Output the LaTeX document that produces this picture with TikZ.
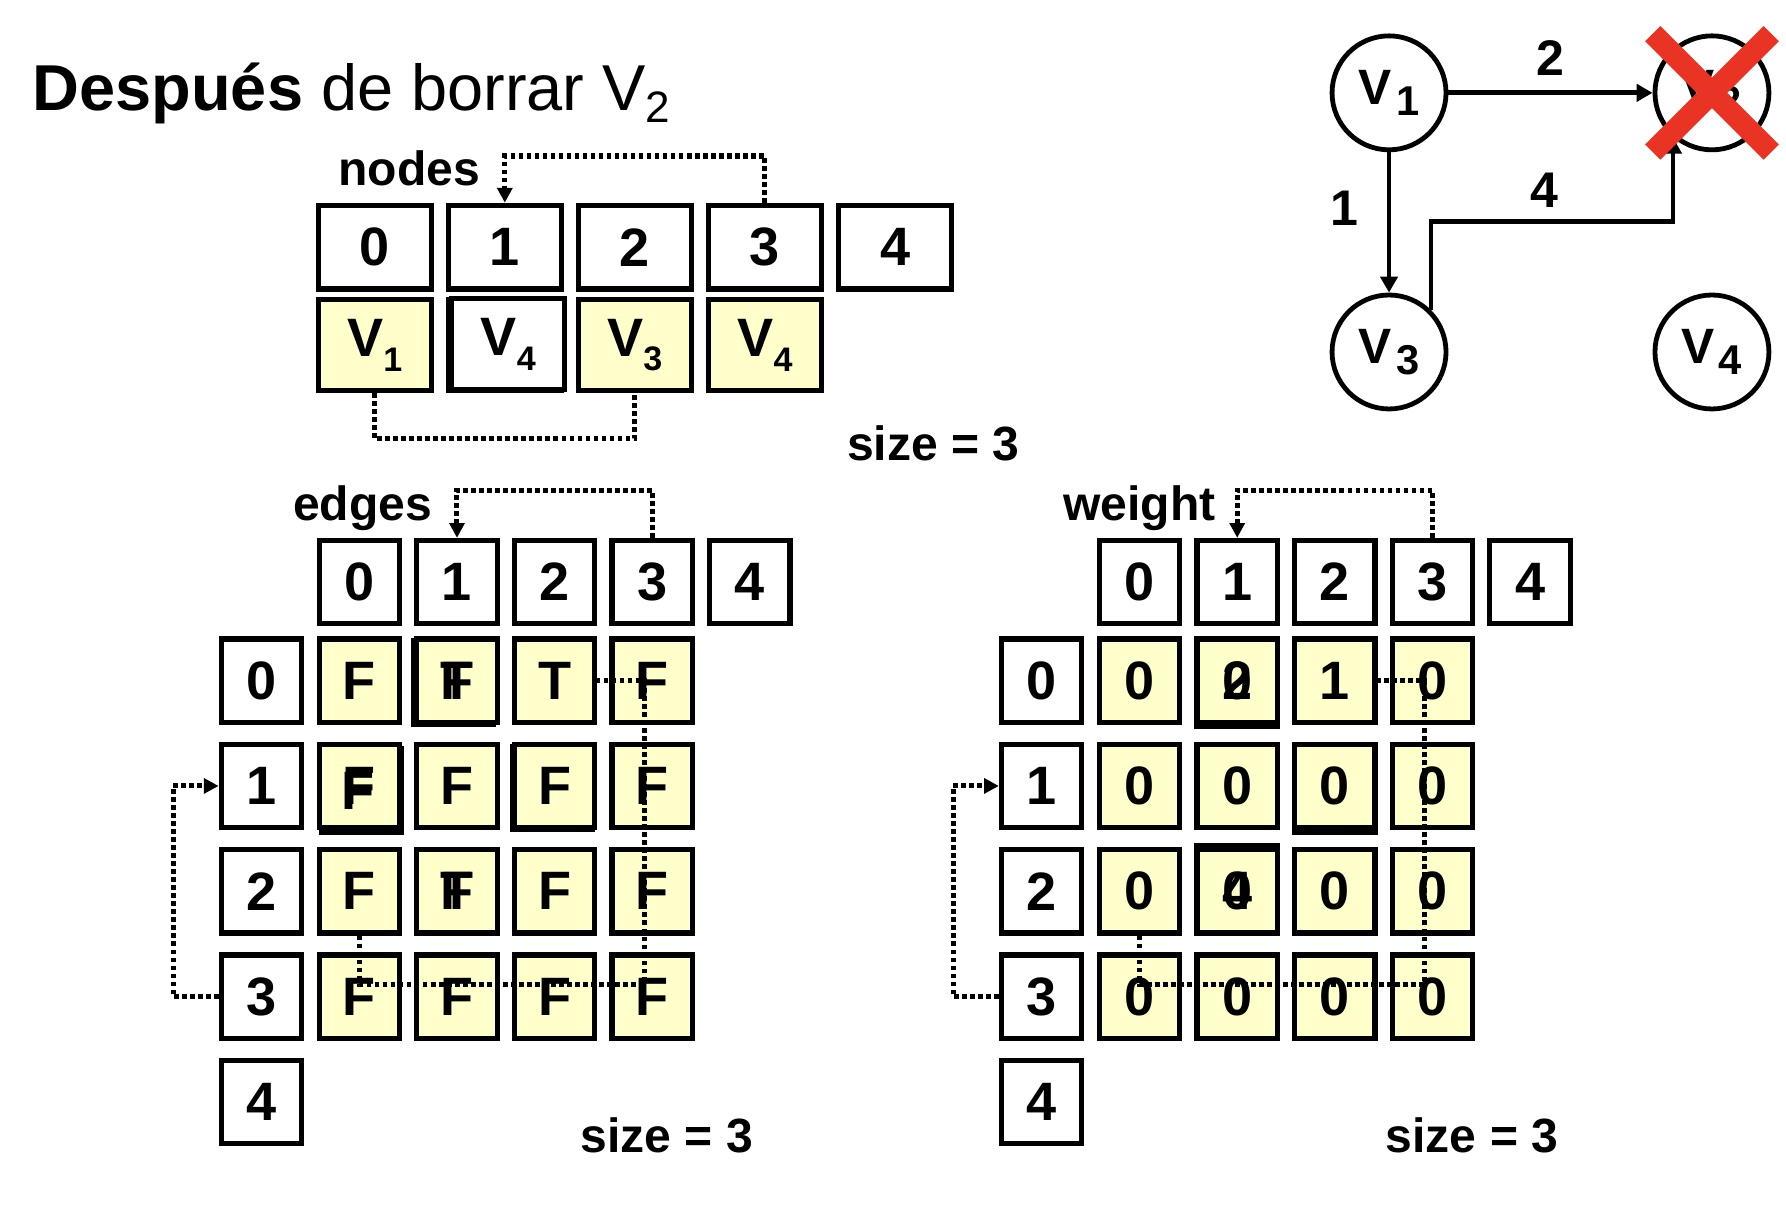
\documentclass[tikz,border=0pt]{standalone}
\usepackage{fontspec}
\setmainfont{Liberation Sans}
\usetikzlibrary{arrows.meta, positioning, calc}

\definecolor{cellyellow}{RGB}{255,255,204}
\definecolor{crossred}{RGB}{233,52,37}
\newcommand{\arrv}[1]{V\raisebox{-3.7pt}{\fontsize{8.5}{8.5}\selectfont #1}}
\newcommand{\grv}[1]{V\kern1pt\raisebox{-2.9pt}{\fontsize{10.4}{10.4}\selectfont #1}}

\begin{document}
\begin{tikzpicture}[
      x=0.01cm, y=-0.01cm,
      cellbox/.style={rectangle, draw, line width=1.3pt, inner sep=0pt, minimum width=0.705cm, minimum height=0.73cm, font=\bfseries\fontsize{13.5}{13.5}\selectfont},
      full/.style={cellbox, fill=cellyellow},
      slot/.style={cellbox, minimum width=0.99cm, minimum height=0.735cm},
      tall/.style={slot, minimum height=0.795cm},
      glyph/.style={inner sep=0pt, font=\bfseries\fontsize{13.5}{13.5}\selectfont},
      vert/.style={circle, draw, line width=1.2pt, minimum size=1cm, inner sep=0pt, font=\bfseries\fontsize{12.4}{12.4}\selectfont},
      lbl/.style={inner sep=0pt, font=\bfseries\fontsize{12}{12}\selectfont},
      conn/.style={-{Triangle[length=1.4mm, width=1.5mm]}, line width=1.2pt},
      trail/.style={line width=1.25pt, dash pattern=on 1.15pt off 0.85pt},
      trailarrow/.style={trail, -{Triangle[length=1.3mm, width=1.3mm]}}
    ]
    \useasboundingbox (0,0) rectangle (1568,1059);

    % title
    \node[anchor=base west, inner sep=0pt, font=\fontsize{16.2}{16.2}\selectfont] (title) at (28,97)
      {\textbf{Después} de borrar V\raisebox{-3.1pt}{\fontsize{11}{11}\selectfont 2}};

    % nodes array
    \node[lbl, anchor=base east] (nlabel) at (422,163) {nodes};
    \foreach \i in {0,...,4}
      \node[slot] (n\i) at (329+114.2*\i, 217) {\i};
    \node[tall] (g0) at (443.2,303) {};
    \node[tall, fill=cellyellow] (m0) at (329,303) {\arrv{1}};
    \node[tall, fill=white] (m1) at (446.2,302) {\arrv{4}};
    \node[tall, fill=cellyellow] (m2) at (557.4,303) {\arrv{3}};
    \node[tall, fill=cellyellow] (m3) at (671.6,303) {\arrv{4}};
    \draw[trailarrow] (n3.north) -- ++(0,-41) -| (n1.north);
    \draw[trail] (m0.south) -- ++(0,40) -| (m2.south);
    \node[lbl, anchor=base west] (nsize) at (743,404) {size = 3};

    % edges matrix
    \node[lbl, anchor=base east] (elabel) at (380,457) {edges};
    \foreach \c in {0,...,4}
      \node[cellbox] (eh\c) at (315.5+85.7*\c, 511) {\c};
    \foreach \r in {0,...,4}
      \node[cellbox] (er\r) at (229.5, 597.5+92.5*\r) {\r};
    \node[full] (eg1) at (398.2,599) {};
    \node[full] (eg2) at (317.5,694) {};
    \node[full] (eg3) at (484.9,692) {};
    \foreach \r/\row in {0/{F,F,T,F}, 1/{F,F,F,F}, 2/{F,F,F,F}, 3/{F,F,F,F}}
      \foreach \t [count=\c from 0] in \row
        \node[full] (e\r\c) at (315.5+85.7*\c, 597.5+92.5*\r) {\t};
    \node[glyph] (e01b) at (e01) {T};
    \node[glyph] (e21b) at (e21) {T};
    \node[glyph] (e10b) at ($(e10)+(-1.5,4)$) {F};
    \coordinate (eturn) at ($(e33)+(-7,-11)$);
    \draw[trail] (e20.south) |- (eturn) |- (e02.east);
    \draw[trailarrow] (eh3.north) -- ++(0,-42) -| (eh1.north);
    \draw[trailarrow] (er3.west) -- ++(-40,0) |- (er1.west);
    \node[lbl, anchor=base west] (esize) at (509,1012) {size = 3};

    % weight matrix
    \node[lbl, anchor=base east] (wlabel) at (1068,457) {weight};
    \foreach \c in {0,...,4}
      \node[cellbox] (wh\c) at (1000.5+85.7*\c, 511) {\c};
    \foreach \r in {0,...,4}
      \node[cellbox] (wr\r) at (914.5, 597.5+92.5*\r) {\r};
    \node[full] (wg1) at (1086.2,601.5) {};
    \node[full] (wg2) at (1171.9,694) {};
    \node[full] (wg3) at (1086.2,778.5) {};
    \foreach \r/\row in {0/{0,0,1,0}, 1/{0,0,0,0}, 2/{0,0,0,0}, 3/{0,0,0,0}}
      \foreach \t [count=\c from 0] in \row
        \node[full] (w\r\c) at (1000.5+85.7*\c, 597.5+92.5*\r) {\t};
    \node[glyph] (w01b) at (w01) {2};
    \node[glyph] (w21b) at (w21) {4};
    \coordinate (wturn) at ($(w33)+(-7,-11)$);
    \draw[trail] (w20.south) |- (wturn) |- (w02.east);
    \draw[trailarrow] (wh3.north) -- ++(0,-42) -| (wh1.north);
    \draw[trailarrow] (wr3.west) -- ++(-40,0) |- (wr1.west);
    \node[lbl, anchor=base west] (wsize) at (1216,1012) {size = 3};

    % graph
    \node[vert] (v1) at (1219.5,81.5) {\grv{1}};
    \node[vert] (v2) at (1503,81.5) {\grv{2}};
    \node[vert] (v3) at (1219.5,309) {\grv{3}};
    \node[vert] (v4) at (1503,309) {\grv{4}};
    \draw[conn] (v1) -- node[lbl, anchor=south, yshift=3.8pt, font=\bfseries\fontsize{12.5}{12.5}\selectfont] (l12) {2} (v2);
    \draw[conn] (v1) -- node[lbl, pos=0.4, anchor=east, xshift=-7pt, font=\bfseries\fontsize{12.5}{12.5}\selectfont] (l13) {1} (v3);
    \draw[conn] (v3.45) -- ++(0,-78) -| node[lbl, pos=0.25, anchor=south, yshift=2.7pt, xshift=-2pt, font=\bfseries\fontsize{12.5}{12.5}\selectfont] (l32) {4} (v2.229);
    \draw[crossred, line width=5.4pt] ($(v2)+(-52,-52)$) -- ($(v2)+(52,52)$);
    \draw[crossred, line width=5.4pt] ($(v2)+(52,-52)$) -- ($(v2)+(-52,52)$);
  \end{tikzpicture}
\end{document}
